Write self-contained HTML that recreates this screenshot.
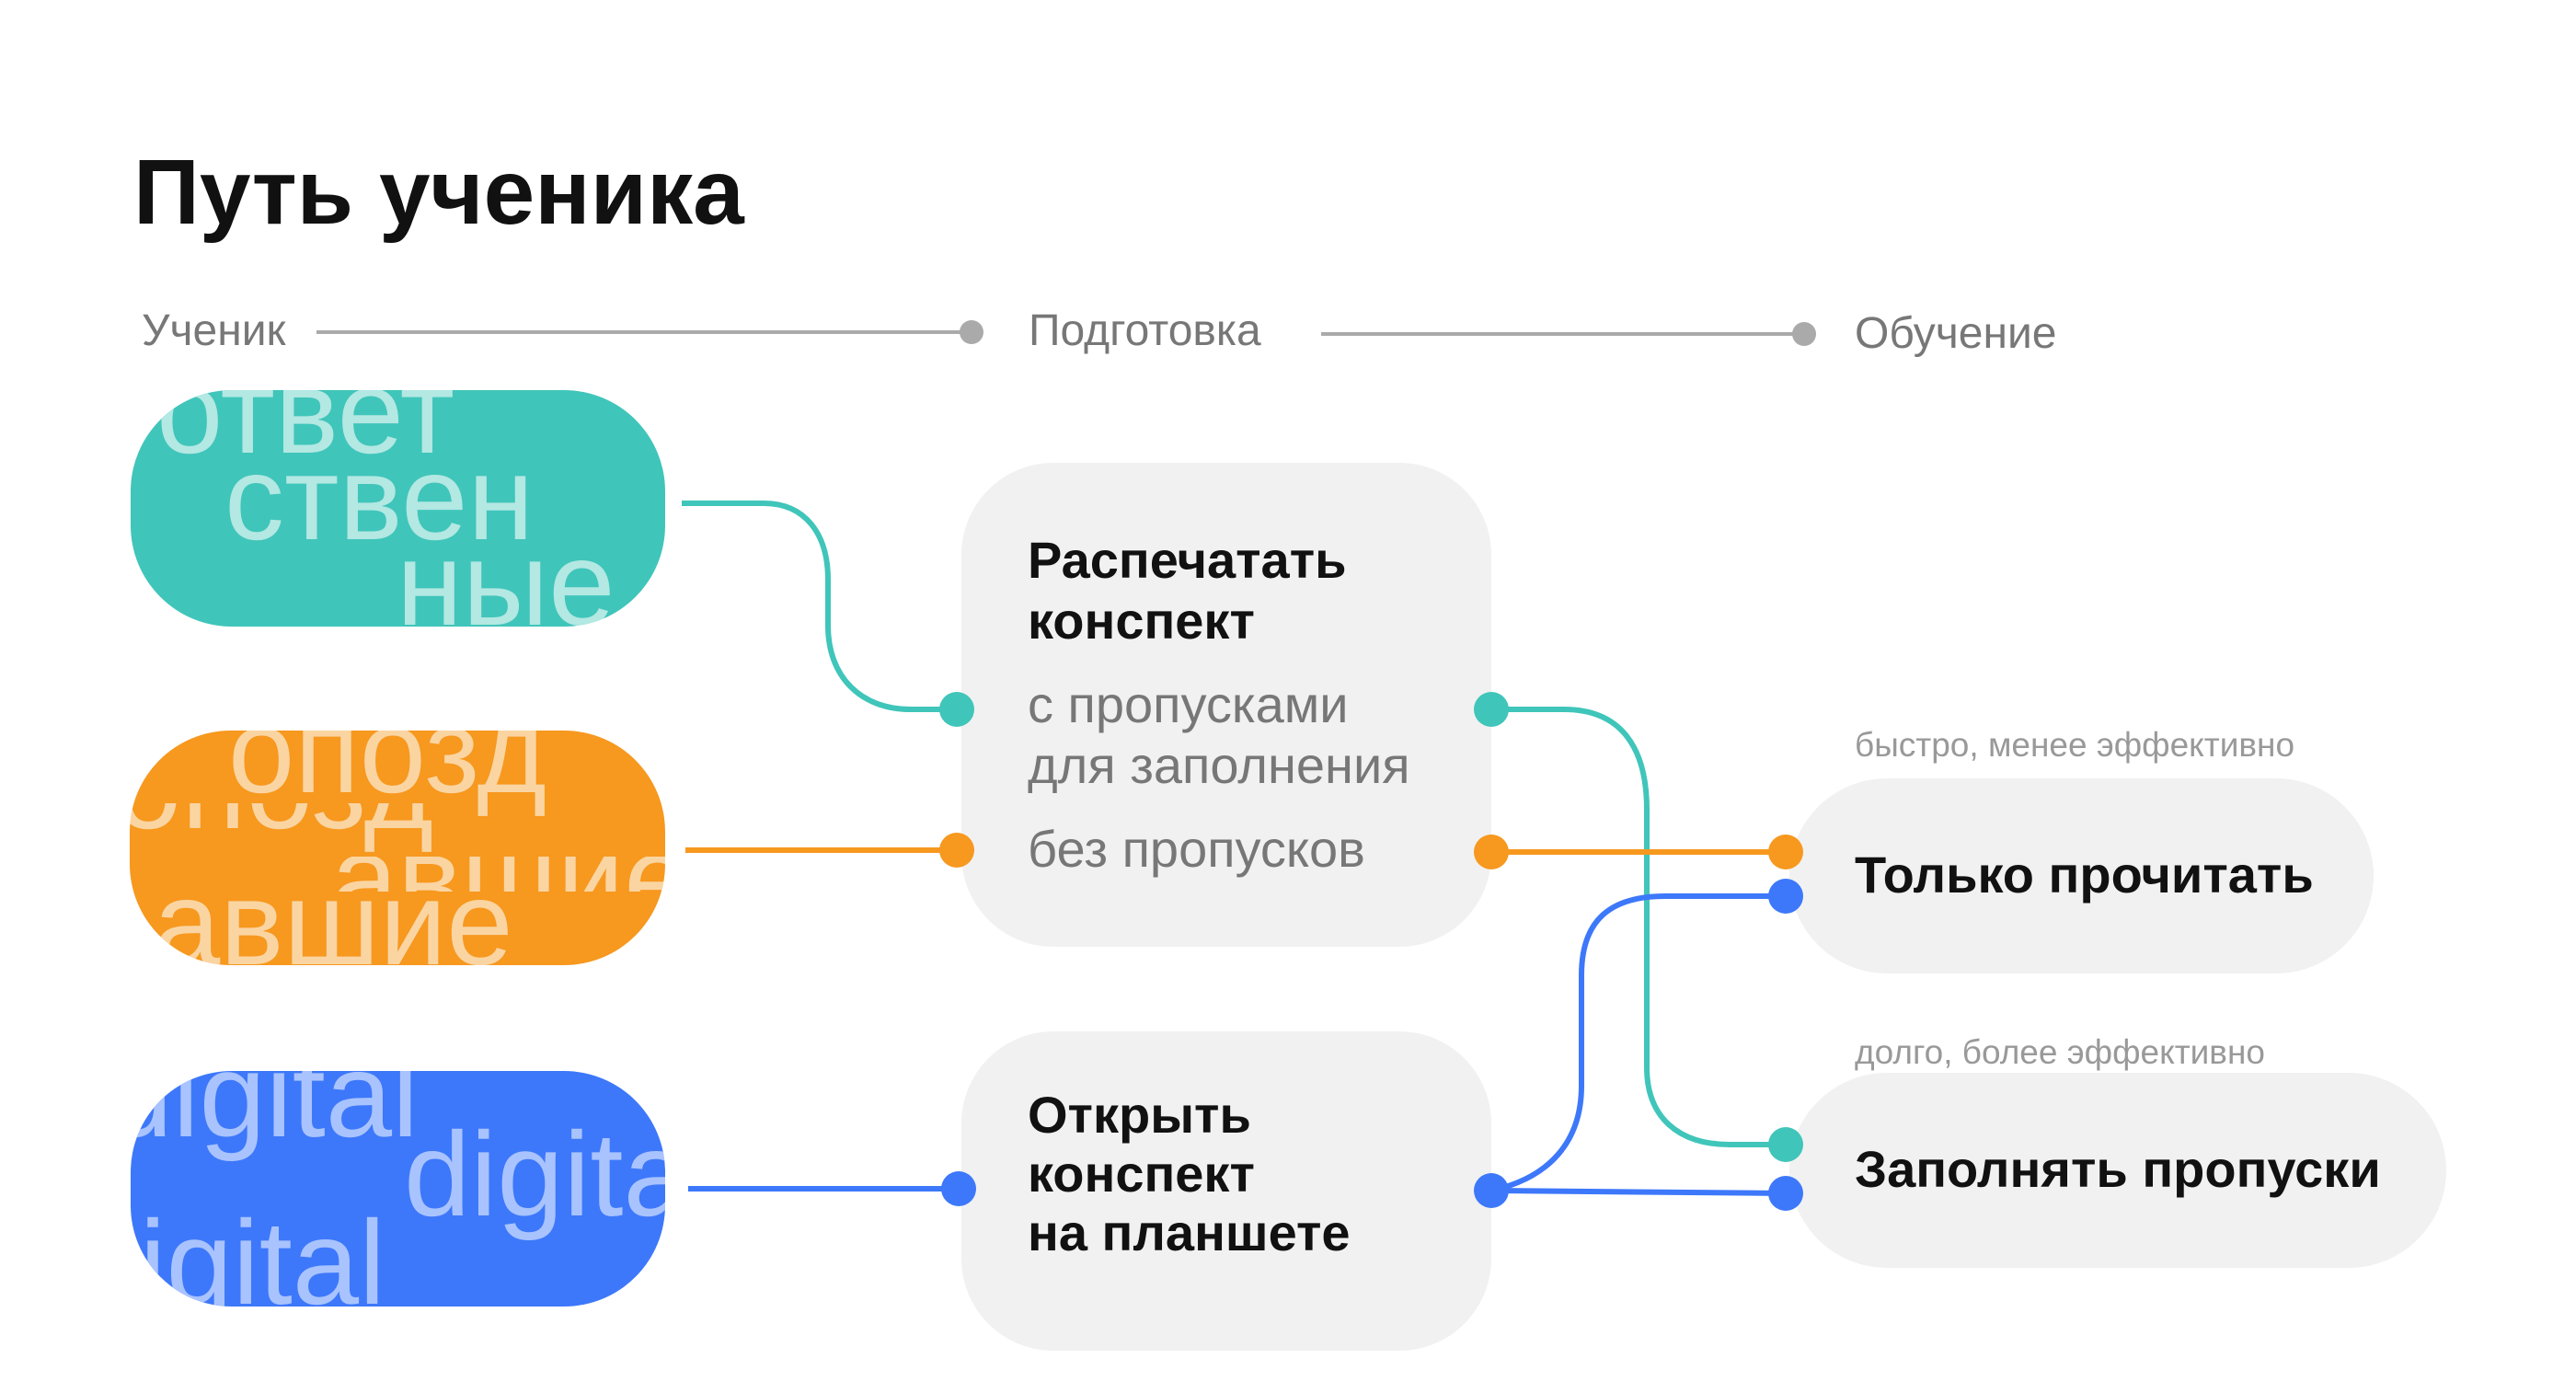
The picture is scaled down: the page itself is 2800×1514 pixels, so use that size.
<!DOCTYPE html>
<html><head><meta charset="utf-8"><style>
*{margin:0;padding:0;box-sizing:border-box}
body{width:2800px;height:1514px;background:#fff;position:relative;overflow:hidden;font-family:"Liberation Sans","DejaVu Sans",sans-serif}
.a{position:absolute;white-space:nowrap;line-height:1}
.pill{position:absolute;overflow:hidden;border-radius:110px}
.bg{position:absolute;white-space:nowrap;line-height:1;font-size:130px}
.box{position:absolute;background:#f1f1f1;border-radius:100px}
.b{font-weight:bold;color:#111;font-size:56px}
.g{color:#777;font-size:56px}
.lab{color:#777;font-size:48px}
.sm{color:#999;font-size:37px}
</style></head><body>
<div class="a" style="left:145px;top:159px;font-size:100px;font-weight:bold;color:#111">Путь ученика</div>
<div class="a lab" style="left:154px;top:336px">Ученик</div>
<div class="a lab" style="left:1118px;top:336px">Подготовка</div>
<div class="a lab" style="left:2016px;top:339px">Обучение</div>

<div class="pill" style="left:142px;top:424px;width:581px;height:257px;background:#40c5ba;color:#b3e8e3">
 <div class="bg" style="left:28px;top:-42px">ответ</div>
 <div class="bg" style="left:102px;top:52px">ствен</div>
 <div class="bg" style="left:289px;top:145px">ные</div>
</div>
<div class="pill" style="left:141px;top:794px;width:582px;height:255px;background:#f7981f;color:#fad5a2">
 <div class="bg" style="left:107px;top:-43px">опозд</div>
 <div style="position:absolute;left:0;top:79px;width:582px;height:60px;overflow:hidden"><div class="bg" style="left:-16px;top:-83px">опозд</div></div>
 <div style="position:absolute;left:0;top:137px;width:582px;height:38px;overflow:hidden"><div class="bg" style="left:219px;top:-42px">авшие</div></div>
 <div class="bg" style="left:26px;top:144px">авшие</div>
</div>
<div class="pill" style="left:142px;top:1164px;width:581px;height:256px;background:#3d78fa;color:#a9c3ff">
 <div class="bg" style="right:268px;top:-39px">digital</div>
 <div class="bg" style="left:297px;top:47px">digital</div>
 <div class="bg" style="right:304px;top:143px">digital</div>
</div>

<div class="box" style="left:1045px;top:503px;width:576px;height:526px"></div>
<div class="box" style="left:1045px;top:1121px;width:576px;height:347px"></div>
<div class="box" style="left:1945px;top:846px;width:635px;height:212px;border-radius:106px"></div>
<div class="box" style="left:1945px;top:1166px;width:714px;height:212px;border-radius:106px"></div>

<div class="a b" style="left:1117px;top:581px">Распечатать</div>
<div class="a b" style="left:1117px;top:647px">конспект</div>
<div class="a g" style="left:1117px;top:738px">с пропусками</div>
<div class="a g" style="left:1117px;top:804px">для заполнения</div>
<div class="a g" style="left:1117px;top:895px">без пропусков</div>
<div class="a b" style="left:1117px;top:1184px">Открыть</div>
<div class="a b" style="left:1117px;top:1248px">конспект</div>
<div class="a b" style="left:1117px;top:1312px">на планшете</div>

<div class="a sm" style="left:2016px;top:791px">быстро, менее эффективно</div>
<div class="a sm" style="left:2016px;top:1125px">долго, более эффективно</div>
<div class="a b" style="left:2016px;top:923px">Только прочитать</div>
<div class="a b" style="left:2016px;top:1243px">Заполнять пропуски</div>

<svg width="2800" height="1514" style="position:absolute;left:0;top:0" fill="none">
 <g stroke="#aaa" stroke-width="4"><path d="M344 361H1056"/><path d="M1436 363H1961"/></g>
 <g fill="#aaa"><circle cx="1056" cy="361" r="13"/><circle cx="1961" cy="363" r="13"/></g>
 <g stroke-width="6">
  <path stroke="#40c5ba" d="M741 547H830C875 547 900 580 900 630V680C900 735 935 771 990 771H1040"/>
  <path stroke="#f7981f" d="M745 924H1040"/>
  <path stroke="#3d78fa" d="M748 1292H1040"/>
  <path stroke="#40c5ba" d="M1621 771H1700C1760 771 1790 810 1790 880V1160C1790 1215 1825 1244 1880 1244H1941"/>
  <path stroke="#f7981f" d="M1621 926H1941"/>
  <path stroke="#3d78fa" d="M1621 1294C1685 1280 1719 1240 1719 1180V1060C1719 1000 1750 974 1810 974H1941"/>
  <path stroke="#3d78fa" d="M1621 1294L1941 1297"/>
 </g>
 <g>
  <circle cx="1040" cy="771" r="19" fill="#40c5ba"/>
  <circle cx="1040" cy="924" r="19" fill="#f7981f"/>
  <circle cx="1042" cy="1292" r="19" fill="#3d78fa"/>
  <circle cx="1621" cy="771" r="19" fill="#40c5ba"/>
  <circle cx="1621" cy="926" r="19" fill="#f7981f"/>
  <circle cx="1621" cy="1294" r="19" fill="#3d78fa"/>
  <circle cx="1941" cy="926" r="19" fill="#f7981f"/>
  <circle cx="1941" cy="974" r="19" fill="#3d78fa"/>
  <circle cx="1941" cy="1244" r="19" fill="#40c5ba"/>
  <circle cx="1941" cy="1297" r="19" fill="#3d78fa"/>
 </g>
</svg>
</body></html>
